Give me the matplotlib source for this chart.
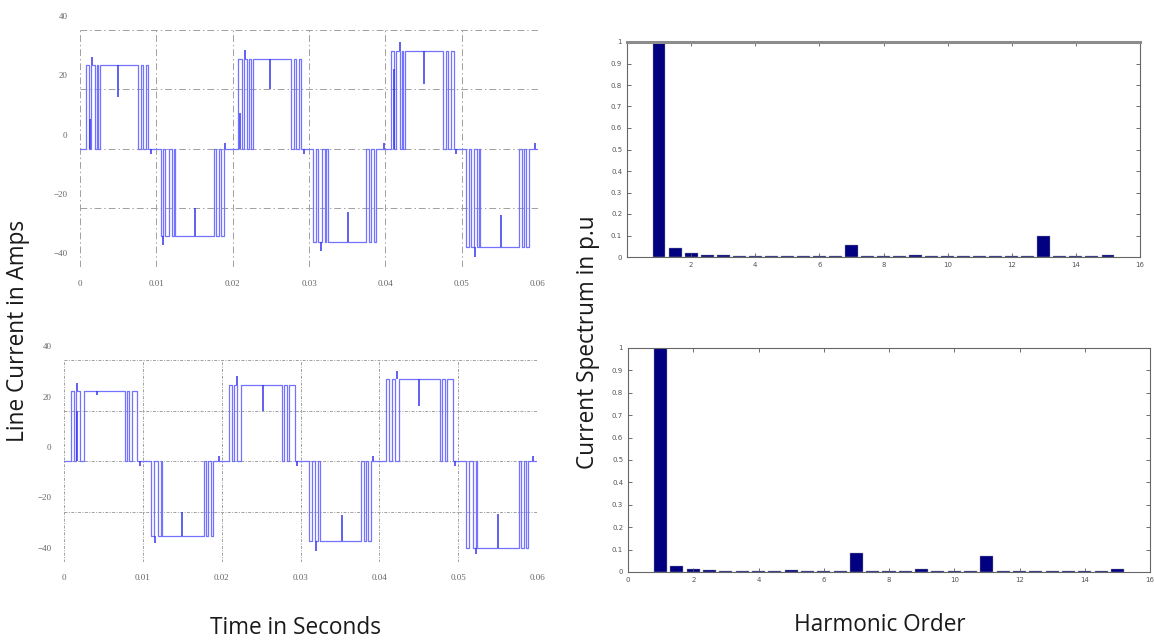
import matplotlib
matplotlib.use("Agg")
import matplotlib.pyplot as plt
import matplotlib.transforms as mtransforms
import numpy as np

# ---- line current waveforms (time in ms) ----
half_start = [0, 10, 20, 30, 40, 50]

# upper trace: level of every half cycle and the on-intervals inside a half cycle
top_levels = [28.2, -29.4, 30.2, -31.4, 33.0, -33.3]
top_pos_pulses = [(0.75, 1.2), (1.45, 1.9), (2.2, 2.35), (2.6, 7.6), (8.0, 8.25), (8.65, 8.95)]
top_neg_pulses = [(0.55, 0.9), (1.2, 1.65), (2.05, 2.25), (2.45, 7.5), (7.85, 8.15), (8.45, 8.8)]
top_spike_t = [1.55, 21.6, 41.9, 5.0, 24.9, 45.0, 10.9, 31.6, 51.8, 15.1, 35.1, 55.2,
               9.3, 29.3, 49.3, 19.0, 39.8, 59.6, 1.35, 21.0, 41.1]
top_spike_lo = [28.2, 30.2, 33.0, 17.5, 20.0, 21.7, -32.5, -34.5, -36.5, -29.4, -31.4, -33.3,
                -2.0, -2.0, -2.0, 0.0, 0.0, 0.0, 0.0, 0.0, 0.0]
top_spike_hi = [31.0, 33.2, 36.0, 28.2, 30.2, 33.0, -29.4, -31.4, -33.3, -20.0, -21.5, -22.4,
                0.0, 0.0, 0.0, 2.0, 2.0, 2.0, 10.0, 12.0, 27.0]

# lower trace
bot_levels = [27.9, -29.8, 30.1, -31.6, 32.4, -34.3]
bot_pos_pulses = [(0.9, 1.25), (1.55, 2.0), (2.5, 7.7), (7.95, 8.3), (8.6, 9.3)]
bot_neg_pulses = [(1.05, 1.4), (1.9, 2.25), (2.45, 7.7), (8.0, 8.3), (8.6, 8.9)]
bot_spike_t = [1.6, 21.9, 42.3, 25.2, 45.0, 11.6, 32.0, 52.2, 15.0, 35.25, 55.1,
               9.6, 29.6, 49.6, 19.6, 39.2, 59.5, 4.2, 1.7]
bot_spike_lo = [27.9, 30.1, 32.4, 20.0, 21.7, -32.5, -35.5, -37.0, -29.8, -31.6, -34.3,
                -2.0, -2.0, -2.0, 0.0, 0.0, 0.0, 26.0, 0.0]
bot_spike_hi = [31.0, 33.5, 35.5, 30.1, 32.4, -29.8, -31.6, -34.3, -20.0, -21.3, -21.0,
                0.0, 0.0, 0.0, 2.0, 2.0, 2.0, 27.9, 20.0]

# ---- harmonic spectra ----
harm_order = [1, 1.5, 2, 2.5, 3, 3.5, 4, 4.5, 5, 5.5, 6, 6.5, 7, 7.5, 8, 8.5, 9, 9.5,
              10, 10.5, 11, 11.5, 12, 12.5, 13, 13.5, 14, 14.5, 15]
spec_top = [1.0, 0.04, 0.018, 0.008, 0.01, 0.005, 0.005, 0.005, 0.006, 0.003, 0.003, 0.003,
            0.058, 0.005, 0.005, 0.005, 0.007, 0.003, 0.003, 0.003, 0.003, 0.003, 0.004,
            0.003, 0.097, 0.005, 0.006, 0.005, 0.008]
spec_bot = [1.0, 0.025, 0.013, 0.011, 0.003, 0.006, 0.003, 0.003, 0.01, 0.003, 0.003, 0.003,
            0.087, 0.006, 0.003, 0.003, 0.013, 0.003, 0.003, 0.006, 0.072, 0.003, 0.003,
            0.003, 0.006, 0.003, 0.003, 0.003, 0.012]

time_ticks = [0, 0.01, 0.02, 0.03, 0.04, 0.05, 0.06]
time_labels = ["0", "0.01", "0.02", "0.03", "0.04", "0.05", "0.06"]
amp_ticks = [-40, -20, 0, 20, 40]


def build_wave(levels, pos_pulses, neg_pulses):
    t = [0.0]
    y = [0.0]
    for start, lev in zip(half_start, levels):
        pulses = pos_pulses if lev > 0 else neg_pulses
        for a, b in pulses:
            t += [start + a, start + a, start + b, start + b]
            y += [0, lev, lev, 0]
    t.append(60.0)
    y.append(0.0)
    return np.array(t) / 1000.0, np.array(y)


def wave_axes(ax, levels, pos_pulses, neg_pulses, sp_t, sp_lo, sp_hi, grid_ls):
    t, y = build_wave(levels, pos_pulses, neg_pulses)
    ax.plot(t, y, color="#7373ff", lw=0.9)
    ax.vlines(np.array(sp_t) / 1000.0, sp_lo, sp_hi, color="#3535ee", lw=1.1)
    ax.set_xlim(0, 0.06)
    ax.set_ylim(-40, 40)
    ax.set_xticks(time_ticks)
    ax.set_xticklabels(time_labels)
    ax.set_yticks(amp_ticks)
    ax.grid(True, color="#a0a0a0", lw=0.7, ls=grid_ls)
    for s in ax.spines.values():
        s.set_visible(False)
    ax.tick_params(length=0, labelsize=6.5, labelcolor="#666", pad=9)
    for lab in ax.get_xticklabels() + ax.get_yticklabels():
        lab.set_family("Liberation Serif")
    shift = mtransforms.ScaledTranslation(0, 0.14, ax.figure.dpi_scale_trans)
    for lab in ax.get_yticklabels():
        lab.set_transform(lab.get_transform() + shift)


def spec_axes(ax, values, xlabels):
    ax.bar(harm_order, values, width=0.4, color="#000080", edgecolor="#9a9a9a", lw=0.3)
    ax.set_xlim(0, 16)
    ax.set_ylim(0, 1)
    ax.set_xticks(range(0, 17, 2))
    ax.set_xticklabels(xlabels)
    ax.set_yticks(np.linspace(0, 1, 11))
    ax.set_yticklabels(["0", "0.1", "0.2", "0.3", "0.4", "0.5", "0.6", "0.7", "0.8", "0.9", "1"])
    ax.tick_params(direction="in", length=3, width=0.6, top=True, right=True,
                   labelsize=5, labelcolor="#555", color="#555")
    for s in ax.spines.values():
        s.set_color("#666")
        s.set_linewidth(0.8)


fig = plt.figure(figsize=(11.54, 6.43), dpi=100)
W, H = 1154, 643


def add_axes(x0, x1, y0, y1):
    return fig.add_axes([x0 / W, 1 - y1 / H, (x1 - x0) / W, (y1 - y0) / H])


ax1 = add_axes(80, 538, 30, 267)
wave_axes(ax1, top_levels, top_pos_pulses, top_neg_pulses,
          top_spike_t, top_spike_lo, top_spike_hi, (0, (7, 3, 1.5, 3)))

ax2 = add_axes(64, 537, 360, 562)
wave_axes(ax2, bot_levels, bot_pos_pulses, bot_neg_pulses,
          bot_spike_t, bot_spike_lo, bot_spike_hi, (0, (3, 1.5, 1, 1.5)))

ax3 = add_axes(627, 1140, 42, 257)
spec_axes(ax3, spec_top, ["", "2", "4", "6", "8", "10", "12", "14", "16"])
ax3.spines["top"].set_color("#8c8c8c")
ax3.spines["top"].set_linewidth(2.2)

ax4 = add_axes(628, 1150, 348, 572)
spec_axes(ax4, spec_bot, ["0", "2", "4", "6", "8", "10", "12", "14", "16"])

label_kw = dict(fontsize=16.3, color="#1a1a1a", family="Open Sans")
fig.text(18 / W, 1 - 331 / H, "Line Current in Amps", rotation=90,
         ha="center", va="center", **label_kw)
fig.text(295 / W, 1 - 628 / H, "Time in Seconds", ha="center", va="center", **label_kw)
fig.text(588 / W, 1 - 342 / H, "Current Spectrum in p.u", rotation=90,
         ha="center", va="center", **label_kw)
fig.text(880 / W, 1 - 625 / H, "Harmonic Order", ha="center", va="center", **label_kw)

fig.savefig("out.png", dpi=100)
